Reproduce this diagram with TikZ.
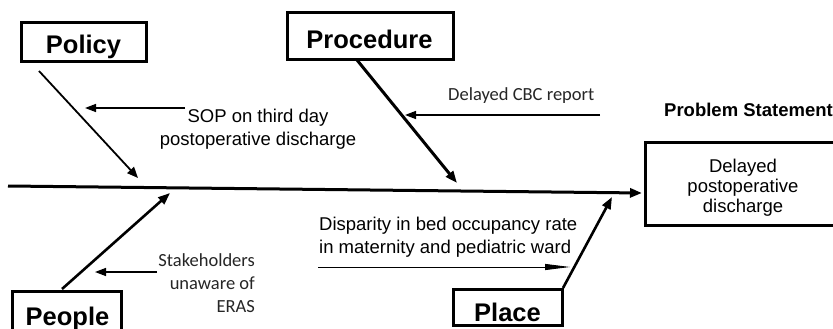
\documentclass[tikz,border=0pt]{standalone}
\usepackage{fontspec}
\setmainfont{Liberation Sans}
\newfontfamily\calibrifont{Carlito}
\usetikzlibrary{arrows.meta}
\begin{document}
\begin{tikzpicture}[x=1pt,y=-1pt,
  catbox/.style={draw, line width=3pt, inner sep=0pt},
  cattext/.style={font=\fontsize{25.5}{30}\selectfont\bfseries, inner sep=0pt, anchor=base},
  atxt/.style={font=\fontsize{18.5}{22}\selectfont, inner sep=0pt},
  ctxt/.style={font=\calibrifont\fontsize{18.5}{22}\selectfont, inner sep=0pt, text=black!85},
  bone/.style={line width=#1, -{Triangle[length=12pt,width=9pt]}},
  thinarrow/.style={line width=1.4pt, -{Triangle[length=11pt,width=8pt]}},
  longarrow/.style={line width=0.9pt, -{Triangle[length=25pt,width=6pt]}}
]
\clip (0,0) rectangle (833,329);
\fill[white] (0,0) rectangle (833,329);

% category boxes
\node[catbox, minimum width=125pt, minimum height=39pt] (policybox) at (83.5,42.5) {};
\node[cattext] (policy) at (83.5,53.5) {Policy};
\node[catbox, minimum width=166pt, minimum height=47pt] (procbox) at (370,36.5) {};
\node[cattext] (procedure) at (369.5,48.5) {Procedure};
\node[catbox, minimum width=109pt, minimum height=60pt] (peoplebox) at (66.5,321) {};
\node[cattext] (people) at (67.5,325) {People};
\node[catbox, minimum width=109pt, minimum height=36pt] (placebox) at (507.5,307) {};
\node[cattext] (place) at (507.5,321) {Place};

% problem box
\node[catbox, minimum width=220pt, minimum height=83pt] (probbox) at (755,183.5) {};
\node[atxt, anchor=base] (p1) at (743,172) {Delayed};
\node[atxt, anchor=base] (p2) at (743,192) {postoperative};
\node[atxt, anchor=base] (p3) at (743,212) {discharge};
\node[atxt, anchor=base west, font=\fontsize{18.5}{22}\selectfont\bfseries] (ps) at (664,117) {Problem Statement};

% spine
\coordinate (spinetail) at (8,186);
\coordinate (spinehead) at (642,193);
\draw[bone=3pt] (spinetail) -- (spinehead);

% bones
\coordinate (polA) at (39,71);   \coordinate (polB) at (138,178);
\coordinate (proA) at (357,60);  \coordinate (proB) at (457,183);
\coordinate (peoA) at (62,289);  \coordinate (peoB) at (170,193);
\coordinate (plaA) at (563,288); \coordinate (plaB) at (612,197);
\draw[line width=1.8pt, -{Triangle[length=11pt,width=9pt]}] (polA) -- (polB);
\draw[bone=3pt] (proA) -- (proB);
\draw[bone=2.6pt] (peoA) -- (peoB);
\draw[bone=2.6pt] (plaA) -- (plaB);

% causes
\node[atxt, anchor=base] (sop1) at (258,122) {SOP on third day};
\node[atxt, anchor=base] (sop2) at (258,145) {postoperative discharge};
\coordinate (sopA) at (185,108); \coordinate (sopB) at (85,108);
\draw[thinarrow] (sopA) -- (sopB);

\node[ctxt, anchor=base west] (cbc) at (448,100) {Delayed CBC report};
\coordinate (cbcA) at (600,115); \coordinate (cbcB) at (405,115);
\draw[thinarrow] (cbcA) -- (cbcB);

\node[ctxt, anchor=base east] (st1) at (255,266) {Stakeholders};
\node[ctxt, anchor=base east] (st2) at (255,289) {unaware of};
\node[ctxt, anchor=base east] (st3) at (255,312) {ERAS};
\coordinate (stA) at (157,272); \coordinate (stB) at (95,272);
\draw[thinarrow] (stA) -- (stB);

\node[atxt, anchor=base west] (d1) at (319,230) {Disparity in bed occupancy rate};
\node[atxt, anchor=base west] (d2) at (319,253) {in maternity and pediatric ward};
\coordinate (dA) at (318,267); \coordinate (dB) at (570,267);
\draw[longarrow] (dA) -- (dB);
\end{tikzpicture}
\end{document}
